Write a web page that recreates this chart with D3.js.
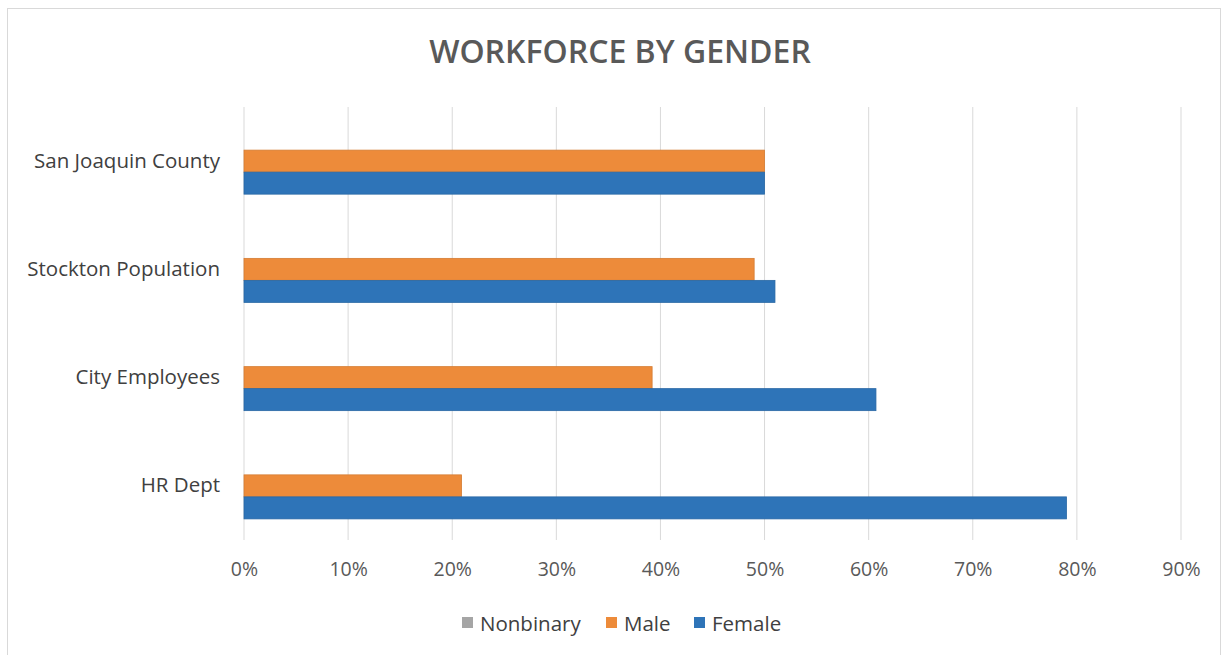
<!DOCTYPE html>
<html>
<head>
<meta charset="utf-8">
<script src="https://cdn.jsdelivr.net/npm/d3@7"></script>
<style>
  body { margin: 0; background: #fff; }
  svg { display: block; font-family: 'Open Sans', sans-serif; }
</style>
</head>
<body>
<svg id="chart" width="1225" height="655"></svg>
<script>
'use strict';

var categories = ['San Joaquin County', 'Stockton Population', 'City Employees', 'HR Dept'];
var seriesNames = ['Nonbinary', 'Male', 'Female'];
var seriesColors = ['#a5a5a5', '#ed8b3a', '#2e74b8'];
var nonbinary = [0, 0, 0, 0];
var male = [50.0, 49.0, 39.2, 20.9];
var female = [50.0, 51.0, 60.7, 79.0];
var xTicks = [0, 10, 20, 30, 40, 50, 60, 70, 80, 90];

var seriesValues = [nonbinary, male, female];

var svg = d3.select('#chart');

// chart frame
svg.append('rect')
  .attr('x', 7.5).attr('y', 8.5)
  .attr('width', 1213).attr('height', 660)
  .attr('fill', 'none')
  .attr('stroke', '#d9d9d9');

var plot = { left: 244, right: 1181, top: 107, bottom: 540 };

var x = d3.scaleLinear().domain([0, 90]).range([plot.left, plot.right]);
var y = d3.scaleBand().domain(categories).range([plot.top, plot.bottom])
  .paddingInner(0.39).paddingOuter(0.195);
var ySeries = d3.scaleBand().domain(seriesNames).range([0, y.bandwidth()]);

// title
svg.append('text')
  .attr('x', 620).attr('y', 63)
  .attr('text-anchor', 'middle')
  .attr('font-size', 32)
  .attr('font-weight', 600)
  .attr('fill', '#595959')
  .text('WORKFORCE BY GENDER');

// gridlines
svg.append('g')
  .selectAll('line')
  .data(xTicks)
  .enter()
  .append('line')
  .attr('x1', function (d) { return x(d); })
  .attr('x2', function (d) { return x(d); })
  .attr('y1', plot.top)
  .attr('y2', plot.bottom)
  .attr('stroke', '#d9d9d9')
  .attr('stroke-width', 1);

// x axis
var xAxis = d3.axisBottom(x)
  .tickValues(xTicks)
  .tickSize(0)
  .tickPadding(22)
  .tickFormat(function (d) { return d + '%'; });

var gx = svg.append('g')
  .attr('transform', 'translate(0,' + plot.bottom + ')')
  .call(xAxis);
gx.select('.domain').remove();
gx.selectAll('text')
  .attr('font-family', "'Open Sans', sans-serif")
  .attr('font-size', 19.5)
  .attr('fill', '#595959');

// y axis
var yAxis = d3.axisLeft(y).tickSize(0).tickPadding(24);
var gy = svg.append('g')
  .attr('transform', 'translate(' + plot.left + ',0)')
  .call(yAxis);
gy.select('.domain').remove();
gy.selectAll('text')
  .attr('font-family', "'Open Sans', sans-serif")
  .attr('font-size', 20.5)
  .attr('fill', '#404040');

// bars
seriesNames.forEach(function (name, si) {
  svg.append('g')
    .selectAll('rect')
    .data(seriesValues[si])
    .enter()
    .append('rect')
    .attr('x', x(0))
    .attr('y', function (d, i) { return y(categories[i]) + ySeries(name); })
    .attr('width', function (d) { return x(d) - x(0); })
    .attr('height', ySeries.bandwidth())
    .attr('fill', seriesColors[si])
    .attr('stroke', function (d) { return d > 0 ? d3.color(seriesColors[si]).darker(0.3) : 'none'; })
    .attr('stroke-width', 0.8);
});

// legend
var legendX = [462, 606, 694];
var legend = svg.append('g')
  .selectAll('g')
  .data(seriesNames)
  .enter()
  .append('g')
  .attr('transform', function (d, i) { return 'translate(' + legendX[i] + ',623)'; });

legend.append('rect')
  .attr('x', 0).attr('y', -6)
  .attr('width', 11).attr('height', 11)
  .attr('fill', function (d, i) { return seriesColors[i]; });

legend.append('text')
  .attr('x', 18).attr('y', 7.5)
  .attr('font-size', 20.5)
  .attr('fill', '#404040')
  .text(function (d) { return d; });
</script>
</body>
</html>
